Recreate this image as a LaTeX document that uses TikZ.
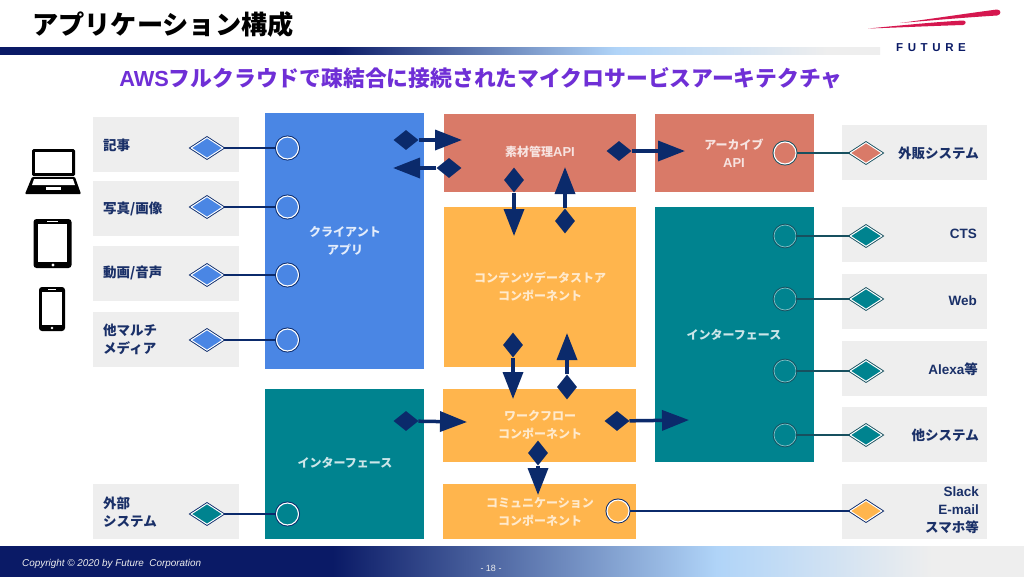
\documentclass[tikz,border=0pt]{standalone}
\usepackage{fontspec}
\setmainfont{Liberation Sans}
\newfontfamily\jp{Noto Sans CJK JP}
\usetikzlibrary{arrows.meta,shapes.geometric}
\definecolor{navy}{HTML}{0B2A6B}
\definecolor{deep}{HTML}{0A1A66}
\definecolor{sky}{HTML}{B0D4F8}
\definecolor{pale}{HTML}{EEEEEE}
\definecolor{cblue}{HTML}{4A86E4}
\definecolor{cteal}{HTML}{00838F}
\definecolor{cred}{HTML}{D97A68}
\definecolor{corange}{HTML}{FFB54D}
\definecolor{dteal}{HTML}{17505F}
\definecolor{label}{HTML}{1A3068}
\definecolor{logored}{HTML}{D5174F}
\pgfdeclarehorizontalshading{footg}{100bp}{color(0bp)=(deep); color(41.25bp)=(deep); color(60bp)=(sky); color(70.5bp)=(pale); color(100bp)=(pale)}
\pgfdeclarehorizontalshading{headg}{100bp}{color(0bp)=(deep); color(44bp)=(deep); color(60bp)=(sky); color(72bp)=(pale); color(100bp)=(pale)}
\tikzset{
  ltxt/.style={font=\jp\bfseries\fontsize{13.5}{18}\selectfont,text=label,align=left,anchor=west,inner sep=0pt},
  rtxt/.style={font=\bfseries\fontsize{13.5}{18}\selectfont,text=label,align=right,anchor=east,inner sep=0pt},
  wtxt/.style={font=\jp\bfseries\fontsize{12}{18}\selectfont,align=center,inner sep=0pt},
  port/.style={circle,minimum size=22pt,inner sep=0pt,draw=white,line width=1.1pt,preaction={draw=#1,line width=3pt}},
  tport/.style={circle,minimum size=22pt,inner sep=0pt,draw=white!50!cteal,line width=0.7pt,preaction={draw=dteal,line width=2.6pt}},
  conn/.style={diamond,minimum width=32pt,minimum height=21pt,inner sep=0pt,aspect=1.5,draw=white,line width=1pt,preaction={draw=#1,line width=2.8pt}},
  wire/.style={draw=#1,line width=2pt},
  dia/.style={diamond,fill=navy,inner sep=0pt,minimum width=25pt,minimum height=20pt,aspect=1.25},
  vdia/.style={diamond,fill=navy,inner sep=0pt,minimum width=20pt,minimum height=25pt,aspect=0.8},
  flow/.style={draw=navy,line width=3.5pt,-{Triangle[length=27pt,width=20pt]}},
}
\newcommand{\apilabel}{{\rmfamily\fontsize{13}{18}\selectfont API}}
\begin{document}
\begin{tikzpicture}[x=1pt,y=-1pt]
\useasboundingbox (0,0) rectangle (1024,576);
\fill[white] (0,0) rectangle (1024,576);
% header and footer
\shade[shading=headg] (0,47) rectangle (880,54);
\shade[shading=footg] (0,546) rectangle (1024,576);
\node[inner sep=0pt,anchor=west] (title) at (32,25) {\jp\bfseries\fontsize{26.2}{30}\selectfont アプリケーション構成};
\node[inner sep=0pt] (sub) at (481,78) {\textcolor[HTML]{6F2FD6}{\bfseries\fontsize{21.8}{26}\selectfont AWS{\jp フルクラウドで疎結合に接続されたマイクロサービスアーキテクチャ}}};
\node[inner sep=0pt,anchor=west] (copy) at (22,564) {\textcolor{pale}{\itshape\fontsize{9.9}{12}\selectfont Copyright © 2020 by Future\ \ Corporation}};
\node[inner sep=0pt] (page) at (491,568) {\textcolor{pale}{\fontsize{9}{12}\selectfont - 18 -}};
% logo
\fill[logored] (900,23) .. controls (930,19) and (970,13) .. (997,9.5) .. controls (1001.5,9.5) and (1001.5,15) .. (997,15.5) .. controls (965,17.5) and (930,20.5) .. cycle;
\fill[logored] (868,28.5) .. controls (900,25.5) and (935,22) .. (963,20.5) .. controls (966.5,20.5) and (966.5,24.5) .. (963,25) .. controls (930,26) and (900,27.5) .. cycle;
\node[inner sep=0pt] (logo) at (931,48) {\textcolor{deep}{\bfseries\fontsize{11.5}{12}\selectfont F\hspace{4.6pt}U\hspace{4.6pt}T\hspace{4.6pt}U\hspace{4.6pt}R\hspace{4.6pt}E}};
% grey boxes
\foreach \a/\b in {117/172,181/236,246/301,312/367,484/539}{\fill[pale] (93,\a) rectangle (239,\b);}
\foreach \a/\b in {125/180,207/262,274/329,341/396,407/462,484/539}{\fill[pale] (842,\a) rectangle (987,\b);}
% main blocks
\fill[cblue] (265,113) rectangle (424,369);
\fill[cteal] (265,389) rectangle (424,539);
\fill[cred] (444,114) rectangle (636,192);
\fill[cred] (655,114) rectangle (814,192);
\fill[corange] (444,207) rectangle (636,367);
\fill[corange] (443,389) rectangle (636,462);
\fill[corange] (443,484) rectangle (636,539);
\fill[cteal] (655,207) rectangle (814,462);
% labels
\node[ltxt] (l1) at (103,145) {記事};
\node[ltxt] (l2) at (103,209) {写真/画像};
\node[ltxt] (l3) at (103,273) {動画/音声};
\node[ltxt] (l4) at (103,339) {他マルチ\\メディア};
\node[ltxt] (l5) at (103,512) {外部\\システム};
\node[rtxt] (r1) at (979,153) {\jp 外販システム};
\node[rtxt] (r2) at (977,234) {CTS};
\node[rtxt] (r3) at (977,301) {Web};
\node[rtxt] (r4) at (978,369) {Alexa{\jp 等}};
\node[rtxt] (r5) at (979,435) {\jp 他システム};
\node[rtxt] (r6) at (979,510) {Slack\\E-mail\\{\jp スマホ等}};
\node[wtxt,text=white!85!cblue] (t1) at (345,241) {クライアント\\アプリ};
\node[wtxt,text=white!80!cteal] (t2) at (345,463) {インターフェース};
\node[wtxt,text=white!80!cred] (t3) at (540,152) {素材管理\apilabel};
\node[wtxt,text=white!80!cred] (t4) at (734,153) {アーカイブ\\\apilabel};
\node[wtxt,text=white!72!corange] (t5) at (540,287) {コンテンツデータストア\\コンポーネント};
\node[wtxt,text=white!72!corange] (t6) at (540,425) {ワークフロー\\コンポーネント};
\node[wtxt,text=white!72!corange] (t7) at (540,512) {コミュニケーション\\コンポーネント};
\node[wtxt,text=white!80!cteal] (t8) at (734,335) {インターフェース};
% ports and connectors, left
\foreach \n/\y in {a/148,b/207,c/275,d/340}{
  \node[conn=navy,fill=cblue] (d\n) at (207,\y) {};
  \node[port=navy,fill=cblue] (p\n) at (287.5,\y) {};
  \draw[wire=navy] (d\n) -- (p\n);
}
\node[conn=navy,fill=cteal] (de) at (207,514) {};
\node[port=navy,fill=cteal] (pe) at (287.5,514) {};
\draw[wire=navy] (de) -- (pe);
% right
\node[conn=dteal,fill=cred] (df) at (866,153) {};
\node[port=dteal,fill=cred] (pf) at (785,153) {};
\draw[wire=dteal] (pf) -- (df);
\foreach \n/\y in {g/236,h/299,i/371,j/435}{
  \node[conn=dteal,fill=cteal] (d\n) at (866,\y) {};
  \node[tport,fill=cteal] (p\n) at (785,\y) {};
  \draw[wire=dteal] (p\n) -- (d\n);
}
\node[conn=navy,fill=corange] (dk) at (866,511) {};
\node[port=navy,fill=corange] (pk) at (618,511) {};
\draw[wire=navy] (pk) -- (dk);
% flows
\node[dia] (f1) at (406,140) {};
\coordinate (f1e) at (462,140);
\draw[flow] (f1) -- (f1e);
\node[dia] (f2) at (449,168) {};
\coordinate (f2e) at (393,168);
\draw[flow] (f2) -- (f2e);
\node[dia] (f3) at (619,151) {};
\coordinate (f3e) at (685,151);
\draw[flow] (f3) -- (f3e);
\node[vdia] (f4) at (514,180) {};
\coordinate (f4e) at (514,236);
\draw[flow] (f4) -- (f4e);
\node[vdia] (f5) at (565,221) {};
\coordinate (f5e) at (565,167);
\draw[flow] (f5) -- (f5e);
\node[vdia] (f6) at (513,345) {};
\coordinate (f6e) at (513,399);
\draw[flow] (f6) -- (f6e);
\node[vdia] (f7) at (567,387) {};
\coordinate (f7e) at (567,333);
\draw[flow] (f7) -- (f7e);
\node[dia] (f8) at (406,421) {};
\coordinate (f8e) at (467,422);
\draw[flow] (f8) -- (f8e);
\node[dia] (f9) at (617,421) {};
\coordinate (f9e) at (689,420);
\draw[flow] (f9) -- (f9e);
\node[vdia] (f10) at (538,453) {};
\coordinate (f10e) at (538,495);
\draw[flow] (f10) -- (f10e);
% laptop
\fill[black,rounded corners=1.5pt] (32,149) rectangle (75,176);
\fill[white] (35,152) rectangle (72,173);
\fill[black,rounded corners=1pt] (32,177) -- (75,177) -- (81,194) -- (25,194) -- cycle;
\fill[white] (34,179) -- (73,179) -- (75,185) -- (32,185) -- cycle;
\fill[white] (46,187) rectangle (61,190);
% tablet
\fill[black,rounded corners=3pt] (33.5,219) rectangle (71.5,268);
\fill[white] (38,224) rectangle (67,262);
\fill[white] (53,265) circle (1.6);
\fill[white] (47,221) rectangle (58,222);
% phone
\fill[black,rounded corners=3pt] (39,287) rectangle (65,331);
\fill[white] (42,292) rectangle (62,325);
\fill[white] (52,328) circle (1.4);
\fill[white] (48,289) rectangle (56,290);
\end{tikzpicture}
\end{document}
